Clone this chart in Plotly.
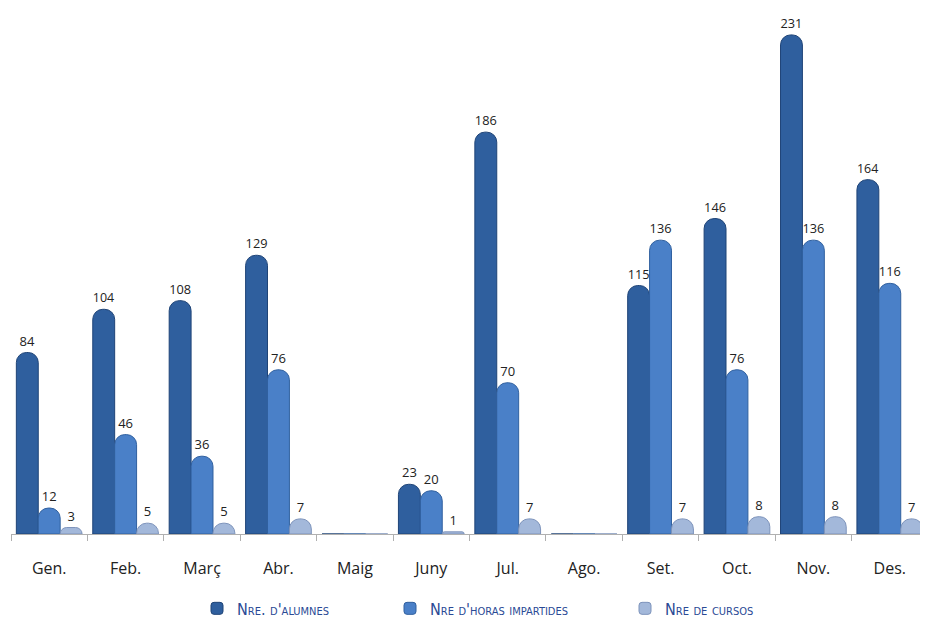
import plotly.graph_objects as go

months = ["Gen.", "Feb.", "Març", "Abr.", "Maig", "Juny", "Jul.", "Ago.", "Set.", "Oct.", "Nov.", "Des."]
alumnes = [84, 104, 108, 129, 0, 23, 186, 0, 115, 146, 231, 164]
hores = [12, 46, 36, 76, 0, 20, 70, 0, 136, 76, 136, 116]
cursos = [3, 5, 5, 7, 0, 1, 7, 0, 7, 8, 8, 7]

series = [
    ("Nre. d'alumnes", alumnes, "#2f5f9e", "#1f4477", "legend"),
    ("Nre d'horas impartides", hores, "#4a80c8", "#30609f", "legend2"),
    ("Nre de cursos", cursos, "#a3b8da", "#7d93bb", "legend3"),
]

W, H = 920, 618
L, R, T, B = 3, 0, 0, 88
plot_w = W - L - R
plot_h = H - T - B

fig = go.Figure()
for name, vals, col, line, lg in series:
    fig.add_trace(go.Bar(
        x=months, y=vals, name=name, legend=lg,
        marker=dict(color=col, line=dict(color=line, width=1), cornerradius=10),
        text=[str(v) if v else "" for v in vals],
        textposition="outside", cliponaxis=False,
        textfont=dict(family="Open Sans", size=13, color="#222222"),
    ))

legend_font = dict(family="DejaVu Sans Condensed, Liberation Sans Narrow, sans-serif", size=16,
                   color="#2a4a95", variant="small-caps")
ly = (plot_h - 605) / plot_h
legs = {}
for key, cx in [("legend", 209), ("legend2", 402), ("legend3", 637)]:
    legs[key] = dict(x=(cx - 20 - L) / plot_w, xanchor="left", y=ly, yanchor="middle",
                     font=legend_font, itemwidth=30, bgcolor="rgba(0,0,0,0)")

fig.update_layout(
    width=W, height=H,
    margin=dict(l=L, r=R, t=T, b=B),
    paper_bgcolor="white", plot_bgcolor="white",
    barmode="group", bargap=0.14, bargroupgap=0,
    showlegend=True,
    xaxis=dict(showline=True, linecolor="#b0b0b0", ticks="outside", tickcolor="#b0b0b0",
               ticklen=6, tickson="boundaries",
               tickfont=dict(family="Open Sans", size=16, color="#222222"), ticklabelstandoff=20),
    yaxis=dict(range=[0, plot_h / 2.177], visible=False, showgrid=False),
    **legs,
)

fig.write_html("out.html")
